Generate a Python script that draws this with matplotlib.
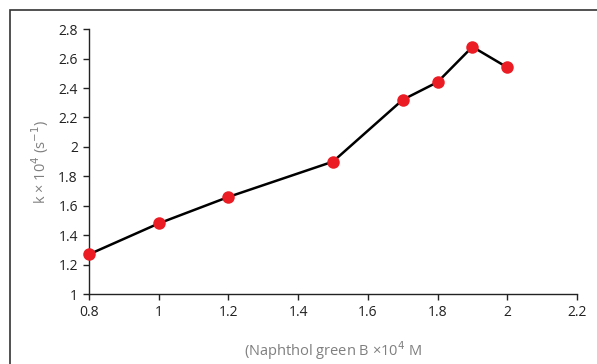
import matplotlib
matplotlib.use("Agg")
import matplotlib.pyplot as plt
from matplotlib.patches import Rectangle

# Naphthol green B concentration (x 10^4 M) vs rate constant k (x 10^4 s^-1)
conc = [0.8, 1.0, 1.2, 1.5, 1.7, 1.8, 1.9, 2.0]
k_obs = [1.27, 1.48, 1.66, 1.90, 2.32, 2.44, 2.68, 2.54]
x_ticks = [0.8, 1, 1.2, 1.4, 1.6, 1.8, 2, 2.2]
y_ticks = [1, 1.2, 1.4, 1.6, 1.8, 2, 2.2, 2.4, 2.6, 2.8]

plt.rcParams["font.family"] = ["Open Sans", "DejaVu Sans"]

fig = plt.figure(figsize=(5.97, 3.64), dpi=100)
ax = fig.add_axes([0.149, 0.192, 0.8175, 0.728])

# frame around the chart area (right/bottom run off the image)
fig.patches.append(Rectangle((10 / 597, -0.05), 1.2, 1 - 10 / 364 + 0.05,
                             transform=fig.transFigure, fill=False,
                             edgecolor="#333333", lw=1.2))

ax.plot(conc, k_obs, color="black", lw=1.8, zorder=2, clip_on=False)
ax.plot(conc, k_obs, "o", color="#ec1c24", markersize=9, zorder=3,
        clip_on=False, markeredgewidth=0)

ax.set_xlim(0.8, 2.2)
ax.set_ylim(1, 2.8)
ax.set_xticks(x_ticks)
ax.set_xticklabels([f"{v:g}" for v in x_ticks])
ax.set_yticks(y_ticks)
ax.set_yticklabels([f"{v:g}" for v in y_ticks])

for s in ("top", "right"):
    ax.spines[s].set_visible(False)
for s in ("left", "bottom"):
    ax.spines[s].set_color("#222222")
    ax.spines[s].set_linewidth(1.0)
ax.tick_params(direction="out", length=4, width=1, colors="#222222",
               labelsize=10, labelcolor="#222222", pad=4)

ax.set_ylabel("k × 10$^4$ (s$^{-1}$)", color="#7f7f7f", fontsize=10.5, labelpad=5)
ax.set_xlabel("(Naphthol green B ×10$^4$ M", color="#7f7f7f", fontsize=10.5,
              labelpad=14)

fig.savefig("out.png", dpi=100)
